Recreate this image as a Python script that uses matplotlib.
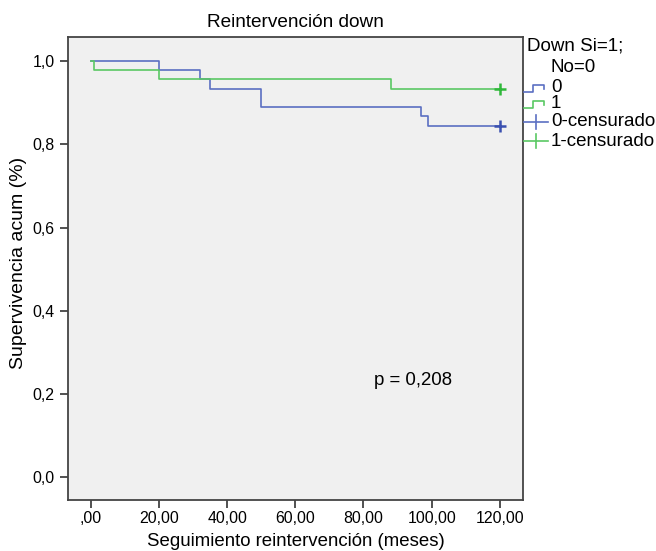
import matplotlib
matplotlib.use("Agg")
import matplotlib.pyplot as plt
from matplotlib.lines import Line2D

plt.rcParams['font.family'] = ['Liberation Sans', 'DejaVu Sans']

# Kaplan-Meier step data (time, survival)
t0 = [0, 20, 32, 35, 50, 97, 99, 120]
s0 = [1.0, 0.978, 0.956, 0.933, 0.889, 0.867, 0.844, 0.844]
t1 = [0, 1, 20, 88, 120]
s1 = [1.0, 0.978, 0.956, 0.933, 0.933]
cens0_t = [120]
cens0_s = [0.844]
cens1_t = [120]
cens1_s = [0.933]

xticks = [0, 20, 40, 60, 80, 100, 120]
xticklabels = [",00", "20,00", "40,00", "60,00", "80,00", "100,00", "120,00"]
yticks = [0.0, 0.2, 0.4, 0.6, 0.8, 1.0]
yticklabels = ["0,0", "0,2", "0,4", "0,6", "0,8", "1,0"]

blue = "#5b6fc2"
green = "#5ac864"

fig = plt.figure(figsize=(6.56, 5.51), dpi=100)
W, H = 656, 551
ax = fig.add_axes([68 / W, 1 - 500 / H, (523 - 68) / W, (500 - 37) / H])
ax.set_facecolor("#f0f0f0")

ax.step(t0, s0, where="post", color=blue, lw=1.2)
ax.step(t1, s1, where="post", color=green, lw=1.2)
ax.plot(cens0_t, cens0_s, "+", color="#3a50b0", ms=8, mew=1.8)
ax.plot(cens1_t, cens1_s, "+", color="#2fb83a", ms=8, mew=1.8)

ax.set_xlim(-6.7, 126.8)
ax.set_ylim(-0.055, 1.058)
ax.set_xticks(xticks)
ax.set_xticklabels(xticklabels, fontsize=11.4)
ax.set_yticks(yticks)
ax.set_yticklabels(yticklabels, fontsize=11.4)
ax.tick_params(direction="out", length=6, width=1.2, color="#333333")
ax.tick_params(axis="x", pad=2)
for s in ax.spines.values():
    s.set_color("#444444")
    s.set_linewidth(1.3)

ax.set_xlabel("Seguimiento reintervención (meses)", fontsize=13.4, labelpad=5)
ax.set_ylabel("Supervivencia acum (%)", fontsize=14)
ax.yaxis.set_label_coords(-0.09, 0.513)
ax.set_title("Reintervención down", fontsize=13.7, pad=7)
ax.text(83.2, 0.233, "p = 0,208", fontsize=13.4, va="center", ha="left")

# legend drawn manually in pixel coordinates
def fx(px):
    return px / W

def fy(py):
    return 1 - py / H

fig.text(fx(527), fy(46), "Down Si=1;", fontsize=13.5, va="center", ha="left")
fig.text(fx(551), fy(68), "No=0", fontsize=13.5, va="center", ha="left")
entries = [("0", blue, "step", 88), ("1", green, "step", 104),
           ("0-censurado", blue, "cross", 122), ("1-censurado", green, "cross", 141)]
for label, col, kind, py in entries:
    if kind == "step":
        xs = [fx(524), fx(533), fx(533), fx(544), fx(544)]
        ys = [fy(py + 4), fy(py + 4), fy(py - 3), fy(py - 3), fy(py + 1)]
    else:
        fig.add_artist(Line2D([fx(536), fx(536)], [fy(py - 7), fy(py + 7)], color=col, lw=1.2))
        xs = [fx(524), fx(548)]
        ys = [fy(py), fy(py)]
    fig.add_artist(Line2D(xs, ys, color=col, lw=1.2))
    fig.text(fx(551), fy(py), label, fontsize=13.5, va="center", ha="left")

fig.savefig("out.png", dpi=100)
